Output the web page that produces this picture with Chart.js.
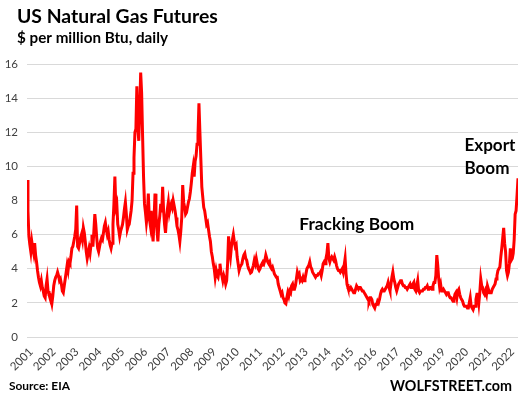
<!DOCTYPE html>
<html>
<head>
<meta charset="utf-8">
<script src="https://cdn.jsdelivr.net/npm/chart.js@4/dist/chart.umd.min.js"></script>
<style>
  html, body { margin: 0; padding: 0; background: #fff; }
</style>
</head>
<body>
<canvas id="gas-chart" width="523" height="399"></canvas>
<script>
'use strict';

// two readings a month, Jan 2001 .. early Jun 2022
const startYear = 2001;
const readingsPerYear = 24;
const tickYears = [2001, 2002, 2003, 2004, 2005, 2006, 2007, 2008, 2009, 2010, 2011,
  2012, 2013, 2014, 2015, 2016, 2017, 2018, 2019, 2020, 2021, 2022];

const gas2001 = [9.2, 7.4, 5.9, 5.4, 5.0, 5.6, 5.2, 4.9, 5.5, 4.8, 4.4, 3.9, 3.5, 3.2, 3.0, 3.3, 2.9, 2.7, 2.4, 2.3, 3.0, 3.4, 2.7, 2.5];
const gas2002 = [2.5, 2.2, 1.95, 2.4, 3.0, 3.3, 3.5, 3.6, 3.8, 3.6, 3.3, 3.4, 3.1, 2.7, 2.6, 3.0, 3.4, 3.8, 4.2, 3.9, 4.4, 4.3, 4.7, 5.2];
const gas2003 = [5.3, 5.6, 5.9, 6.3, 7.7, 5.3, 5.2, 5.5, 5.8, 6.0, 5.7, 6.4, 6.1, 5.6, 5.0, 4.6, 4.9, 5.2, 4.9, 5.4, 6.0, 5.3, 6.2, 7.2];
const gas2004 = [6.6, 5.8, 5.2, 5.0, 5.3, 5.6, 5.8, 5.7, 6.1, 6.5, 6.7, 6.3, 6.0, 6.2, 5.7, 5.4, 5.2, 5.5, 6.6, 7.8, 9.4, 7.6, 7.8, 6.6];
const gas2005 = [6.3, 5.9, 6.2, 6.4, 6.6, 7.0, 7.5, 7.9, 7.2, 6.3, 6.5, 6.6, 7.0, 7.4, 8.0, 9.6, 10.5, 12.0, 12.2, 14.7, 12.3, 11.5, 13.3, 15.5];
const gas2006 = [14.3, 11.8, 9.4, 7.8, 7.3, 6.7, 7.2, 8.4, 7.0, 6.6, 7.4, 6.2, 5.6, 6.9, 8.4, 7.2, 6.3, 5.6, 6.6, 7.1, 7.8, 7.3, 8.8, 7.4];
const gas2007 = [6.6, 6.1, 6.9, 7.5, 7.9, 7.3, 7.6, 7.8, 7.6, 8.0, 7.7, 7.4, 7.0, 6.5, 6.3, 6.0, 5.6, 6.2, 7.0, 8.9, 7.9, 7.6, 7.2, 7.3];
const gas2008 = [7.6, 7.9, 8.1, 8.5, 9.0, 9.6, 10.0, 9.4, 10.3, 10.6, 11.3, 11.8, 13.7, 12.0, 10.4, 8.8, 8.2, 7.6, 7.4, 7.0, 6.6, 6.7, 6.3, 5.9];
const gas2009 = [5.6, 5.0, 4.7, 4.3, 4.0, 3.5, 3.9, 3.6, 3.5, 3.9, 4.3, 3.8, 3.6, 3.3, 3.6, 3.4, 3.1, 3.3, 4.3, 5.9, 5.1, 4.7, 5.3, 5.7];
const gas2010 = [6.0, 5.6, 5.3, 5.4, 4.7, 4.3, 3.9, 4.1, 4.1, 4.3, 4.6, 4.8, 4.9, 4.6, 4.5, 4.2, 4.0, 3.9, 3.75, 3.8, 4.0, 4.2, 4.5, 4.3];
const gas2011 = [4.6, 4.3, 4.0, 3.9, 4.0, 4.2, 4.3, 4.4, 4.3, 4.5, 4.8, 4.6, 4.4, 4.3, 4.4, 4.1, 4.0, 4.1, 3.9, 3.7, 3.6, 3.5, 3.5, 3.1];
const gas2012 = [2.9, 2.7, 2.5, 2.6, 2.3, 2.2, 2.0, 1.95, 2.3, 2.6, 2.4, 2.7, 2.6, 3.0, 3.1, 2.8, 2.8, 3.0, 3.4, 3.8, 3.6, 3.7, 3.3, 3.4];
const gas2013 = [3.3, 3.5, 3.3, 3.4, 3.7, 4.0, 4.1, 4.2, 4.4, 4.1, 4.0, 3.8, 3.7, 3.6, 3.5, 3.6, 3.6, 3.7, 3.7, 3.8, 3.6, 3.9, 4.3, 4.4];
const gas2014 = [4.3, 4.6, 4.9, 5.5, 4.6, 4.4, 4.6, 4.7, 4.6, 4.5, 4.7, 4.5, 4.2, 4.0, 3.9, 3.9, 3.8, 3.9, 4.0, 3.8, 4.2, 4.6, 3.7, 3.1];
const gas2015 = [2.9, 2.9, 2.8, 2.9, 2.8, 2.7, 2.6, 2.6, 2.8, 3.0, 2.9, 2.8, 2.9, 2.9, 2.8, 2.7, 2.7, 2.6, 2.5, 2.4, 2.3, 2.2, 2.1, 2.3];
const gas2016 = [2.3, 2.2, 1.9, 1.8, 1.7, 1.9, 1.9, 2.1, 2.0, 2.2, 2.5, 2.7, 2.8, 2.7, 2.7, 2.8, 2.9, 3.0, 3.2, 2.9, 2.7, 3.1, 3.5, 3.8];
const gas2017 = [3.4, 3.2, 2.9, 2.7, 2.9, 3.1, 3.2, 3.3, 3.3, 3.1, 3.0, 3.0, 2.9, 2.9, 2.8, 2.9, 3.0, 3.1, 2.9, 3.0, 3.1, 3.2, 2.8, 2.7];
const gas2018 = [3.0, 3.3, 2.7, 2.6, 2.7, 2.7, 2.7, 2.8, 2.8, 2.9, 2.9, 3.0, 2.8, 2.8, 2.9, 2.9, 2.8, 3.0, 3.2, 3.2, 3.6, 4.8, 4.2, 3.4];
const gas2019 = [2.9, 3.1, 2.7, 2.7, 2.8, 2.7, 2.6, 2.5, 2.6, 2.6, 2.4, 2.3, 2.3, 2.2, 2.1, 2.2, 2.5, 2.6, 2.3, 2.7, 2.8, 2.5, 2.3, 2.2];
const gas2020 = [2.1, 1.9, 1.8, 1.8, 1.8, 1.7, 1.7, 2.0, 2.3, 1.8, 1.7, 1.6, 1.8, 1.8, 2.2, 2.5, 2.5, 2.0, 2.6, 3.4, 3.0, 2.9, 2.6, 2.5];
const gas2021 = [2.7, 2.5, 3.0, 2.8, 2.6, 2.6, 2.6, 2.8, 2.9, 3.0, 3.1, 3.4, 3.6, 3.9, 4.0, 4.1, 4.7, 5.2, 5.8, 6.4, 5.5, 5.0, 3.9, 3.6];
const gas2022 = [3.8, 4.3, 5.2, 4.5, 4.6, 4.9, 5.7, 7.2, 7.4, 8.3, 9.3];

const gasPrices = [].concat(gas2001, gas2002, gas2003, gas2004, gas2005, gas2006, gas2007,
  gas2008, gas2009, gas2010, gas2011, gas2012, gas2013, gas2014, gas2015, gas2016,
  gas2017, gas2018, gas2019, gas2020, gas2021, gas2022);

const points = gasPrices.map((v, i) => ({x: startYear + i / readingsPerYear, y: v}));
const lastX = points[points.length - 1].x;

const FONT = 'Lato, "Open Sans", sans-serif';

// sets a bold font so the text is about as wide as in the picture
function fitText(ctx, text, width) {
  ctx.font = 'bold 20px ' + FONT;
  const size = 20 * width / ctx.measureText(text).width;
  ctx.font = 'bold ' + size.toFixed(2) + 'px ' + FONT;
}

// titles, footer and the two notes
const textPlugin = {
  id: 'texts',
  afterDraw(chart) {
    const ctx = chart.ctx;
    const xs = chart.scales.x;
    const ys = chart.scales.y;
    ctx.save();
    ctx.fillStyle = '#000';
    ctx.textBaseline = 'alphabetic';
    ctx.textAlign = 'left';
    fitText(ctx, 'US Natural Gas Futures', 201);
    ctx.fillText('US Natural Gas Futures', 17, 23);
    fitText(ctx, '$ per million Btu, daily', 151);
    ctx.fillText('$ per million Btu, daily', 17, 43);
    fitText(ctx, 'Source: EIA', 61);
    ctx.fillText('Source: EIA', 9, 390);
    fitText(ctx, 'WOLFSTREET.com', 122);
    ctx.fillText('WOLFSTREET.com', 390, 391);
    fitText(ctx, 'Fracking Boom', 115);
    ctx.fillText('Fracking Boom', xs.getPixelForValue(2012.88), ys.getPixelForValue(6.25));
    fitText(ctx, 'Export', 51);
    ctx.fillText('Export', xs.getPixelForValue(2020.08), ys.getPixelForValue(10.9));
    ctx.fillText('Boom', xs.getPixelForValue(2020.08), ys.getPixelForValue(9.55));
    ctx.restore();
  }
};

new Chart(document.getElementById('gas-chart'), {
  type: 'line',
  data: {
    datasets: [{
      data: points,
      borderColor: '#ff0000',
      borderWidth: 3,
      pointRadius: 0,
      tension: 0,
      fill: false
    }]
  },
  options: {
    responsive: false,
    animation: false,
    layout: {padding: {left: 0, right: 5, top: 64, bottom: 26}},
    plugins: {
      legend: {display: false},
      tooltip: {enabled: false}
    },
    scales: {
      x: {
        type: 'linear',
        min: startYear,
        max: lastX,
        afterBuildTicks: (scale) => { scale.ticks = tickYears.map(v => ({value: v})); },
        afterFit: (scale) => { scale.height = 36; },
        grid: {display: false},
        border: {display: false},
        ticks: {
          autoSkip: false,
          minRotation: 45,
          maxRotation: 45,
          padding: 0,
          labelOffset: 4,
          color: '#404040',
          font: {family: FONT, size: 11.5},
          callback: (v) => String(v)
        }
      },
      y: {
        min: 0,
        max: 16,
        afterFit: (scale) => { scale.width = 27; },
        grid: {color: '#d9d9d9', lineWidth: 1, drawTicks: false},
        border: {display: false},
        ticks: {
          stepSize: 2,
          padding: 9,
          color: '#404040',
          font: {family: FONT, size: 11.5}
        }
      }
    }
  },
  plugins: [textPlugin]
});
</script>
</body>
</html>
